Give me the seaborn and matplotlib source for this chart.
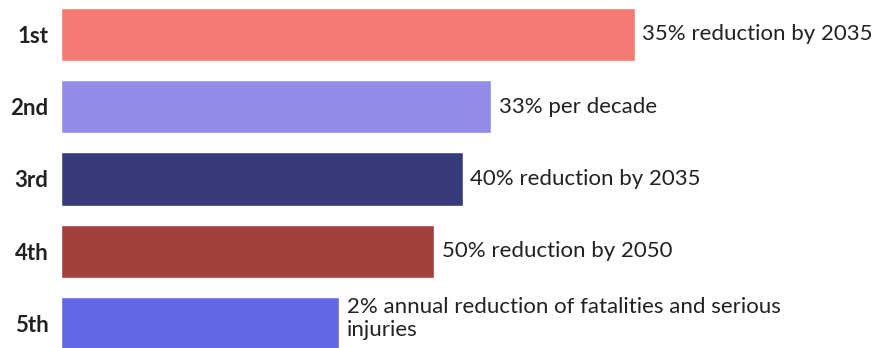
import matplotlib
matplotlib.use("Agg")
import matplotlib.pyplot as plt
import seaborn as sns
import pandas as pd

categories = ["1st", "2nd", "3rd", "4th", "5th"]
values = [100, 75, 70, 65, 48.5]
labels = [
    "35% reduction by 2035",
    "33% per decade",
    "40% reduction by 2035",
    "50% reduction by 2050",
    "2% annual reduction of fatalities and serious\ninjuries",
]
colors = ["#F57A74", "#928CE8", "#383B7A", "#A2403C", "#6366E5"]

sns.set_theme(style="white")
plt.rcParams["font.family"] = ["Lato", "DejaVu Sans"]

df = pd.DataFrame({"rank": categories, "value": values})

fig = plt.figure(figsize=(8.76, 3.48), dpi=100)
ax = fig.add_axes([61 / 876, 0, 815 / 876, 1])
sns.barplot(data=df, y="rank", x="value", hue="rank", palette=colors,
            orient="h", width=0.734, legend=False, ax=ax, saturation=1)

ax.set_xlim(0, 100 * 815 / 574)
ax.set_ylim(348 / 72.25 - 34.5 / 72.25, -34.5 / 72.25)
for i, (v, lab) in enumerate(zip(values, labels)):
    ax.text(v + 1.3, i - (0.07 if "\n" in lab else 0), lab, va="center",
            ha="left", fontsize=16, color="#222222", linespacing=1.2)

ax.set_xlabel("")
ax.set_ylabel("")
ax.set_xticks([])
ax.tick_params(axis="y", length=0, pad=9)
for t in ax.get_yticklabels():
    t.set_fontweight("bold")
    t.set_fontsize(16)
    t.set_color("#222222")
for s in ax.spines.values():
    s.set_visible(False)

fig.savefig("out.png", dpi=100)
